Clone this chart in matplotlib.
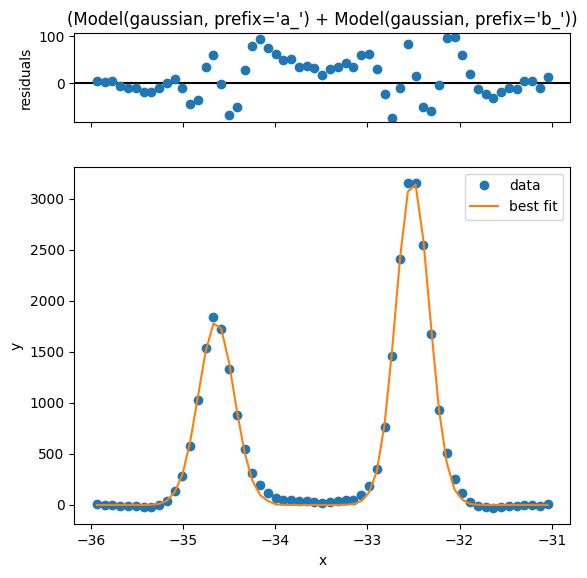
import matplotlib
matplotlib.use('Agg')
import matplotlib.pyplot as plt
import numpy as np

x = [-35.935, -35.851, -35.766, -35.682, -35.598, -35.513, -35.429, -35.345,
     -35.260, -35.176, -35.091, -35.007, -34.923, -34.839, -34.754, -34.670,
     -34.586, -34.501, -34.417, -34.333, -34.248, -34.164, -34.080, -33.995,
     -33.911, -33.827, -33.742, -33.658, -33.574, -33.489, -33.405, -33.320,
     -33.236, -33.152, -33.067, -32.983, -32.899, -32.814, -32.730, -32.646,
     -32.561, -32.477, -32.393, -32.308, -32.224, -32.140, -32.055, -31.971,
     -31.887, -31.802, -31.718, -31.634, -31.549, -31.465, -31.381, -31.296,
     -31.212, -31.127, -31.043]

y_data = [5, 3, 4, -6, -11, -10, -18, -16, 0, 43,
          134, 288, 575, 1026, 1543, 1840, 1729, 1330, 879, 546,
          318, 193, 115, 68, 51, 52, 35, 37, 33, 18,
          30, 36, 46, 44, 98, 184, 357, 766, 1464, 2411,
          3156, 3156, 2548, 1680, 935, 514, 250, 113, 31, -10,
          -22, -32, -18, -10, -12, 4, 4, -10, 14]

best_fit = [0, 0, 0, 0, 0, 0, 0, 2, 11, 42,
            125, 298, 619, 1061, 1508, 1780, 1730, 1397, 929, 518,
            239, 98, 39, 6, 1, 0, 0, 0, 0, 0,
            0, 1, 2, 9, 38, 122, 327, 788, 1538, 2421,
            3072, 3140, 2598, 1738, 938, 418, 151, 53, 11, 2,
            0, 0, 0, 0, 0, 0, 0, 0, 0]

title = "(Model(gaussian, prefix='a_') + Model(gaussian, prefix='b_'))"

x = np.array(x)
y_data = np.array(y_data)
best_fit = np.array(best_fit)
residual = y_data - best_fit

fig = plt.figure(figsize=(5.87, 5.78), dpi=100)
gs = fig.add_gridspec(2, 1, height_ratios=[1, 4], hspace=0.2,
                      left=0.1266, right=0.9716, top=0.9434, bottom=0.0926)
ax_res = fig.add_subplot(gs[0])
ax_fit = fig.add_subplot(gs[1], sharex=ax_res)

# residuals on top
ax_res.axhline(0, color='k')
ax_res.plot(x, residual, 'o')
ax_res.set_ylabel('residuals')
ax_res.set_title(title)
plt.setp(ax_res.get_xticklabels(), visible=False)

# data and fit
ax_fit.plot(x, y_data, 'o', label='data')
ax_fit.plot(x, best_fit, '-', label='best fit')
ax_fit.set_xlabel('x')
ax_fit.set_ylabel('y')
ax_fit.legend(loc='best')

fig.savefig('out.png', dpi=100)
